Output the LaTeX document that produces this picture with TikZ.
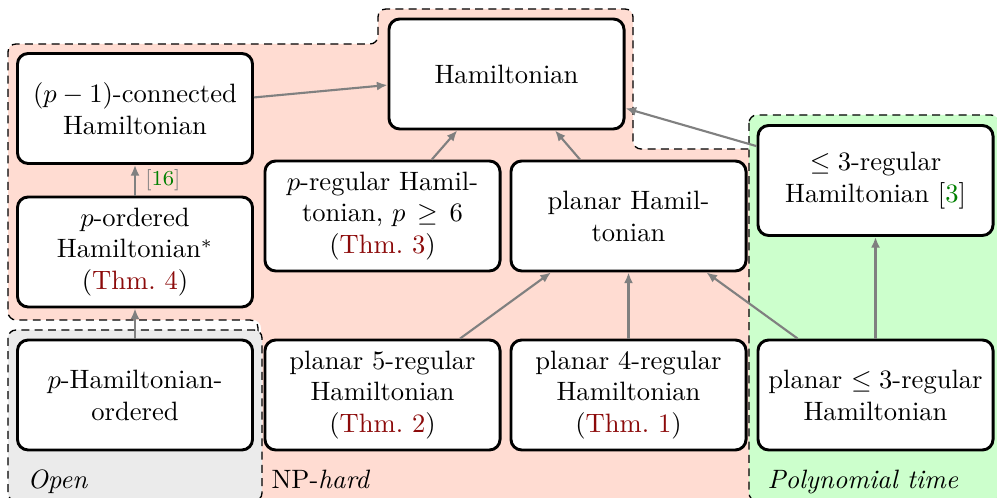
\documentclass[tikz,border=0pt]{standalone}
\usetikzlibrary{arrows.meta}
\definecolor{nphard}{RGB}{255,220,210}
\definecolor{openc}{RGB}{235,235,235}
\definecolor{polyc}{RGB}{204,255,204}
\definecolor{thmred}{RGB}{140,10,10}
\definecolor{citegreen}{RGB}{0,128,0}
\begin{document}
\begin{tikzpicture}[x=0.3765pt,y=-0.3765pt,
  box/.style={draw, rounded corners=4pt, line width=1.1pt, fill=white, align=center,
    minimum width=88.5pt, minimum height=41.4pt, inner sep=2pt},
  arr/.style={draw=gray, line width=0.8pt, -{Latex[length=4pt,width=3.4pt]}},
  region/.style={dash pattern=on 3pt off 2pt, line width=0.5pt, rounded corners=3pt},
  lbl/.style={anchor=base west, inner sep=0pt}]

\useasboundingbox (0,0) rectangle (997,498);

% NP-hard region
\fill[nphard, rounded corners=3pt] (8,44) -- (378,44) -- (378,9) -- (633,9) -- (633,149)
  -- (760,149) -- (760,510) -- (261,510) -- (261,320) -- (8,320) -- cycle;
\draw[region] (258,332) -- (258,320) -- (8,320) -- (8,44) -- (378,44) -- (378,9)
  -- (633,9) -- (633,149) -- (750,149);

% Open region
\draw[region, fill=openc] (8,330) rectangle (262,501);
% Polynomial region
\draw[region, fill=polyc] (749,115) rectangle (999,501);

\node[lbl] (openlbl) at (27,488) {\textit{Open}};
\node[lbl] (nplbl) at (271,488) {NP-\textit{hard}};
\node[lbl] (polylbl) at (767,488) {\textit{Polynomial time}};

% boxes
\node[box] (ham) at (506.5,74) {Hamiltonian};
\node[box] (conn) at (135,108.5) {$(p-1)$-connected\\Hamiltonian};
\node[box] (pord) at (135,252) {$p$-ordered\\Hamiltonian$^*$\\(\textcolor{thmred}{Thm.~4})};
\node[box] (preg) at (382.5,216) {$p$-regular Hamil-\\tonian, $p\mskip3mu\geq\mskip3mu 6$\\(\textcolor{thmred}{Thm.~3})};
\node[box] (planar) at (628.5,216) {planar Hamil-\\tonian};
\node[box] (le3) at (875.5,180.5) {$\leq 3$-regular\\Hamiltonian [\textcolor{citegreen}{3}]};
\node[box] (pham) at (135,395) {$p$-Hamiltonian-\\ordered};
\node[box] (p5) at (382.5,395) {planar 5-regular\\Hamiltonian\\(\textcolor{thmred}{Thm.~2})};
\node[box] (p4) at (628.5,395) {planar 4-regular\\Hamiltonian\\(\textcolor{thmred}{Thm.~1})};
\node[box] (pl3) at (875.5,395) {planar $\leq 3$-regular\\Hamiltonian};

% arrows
\draw[arr] (conn) -- (ham);
\draw[arr] (pord) -- node[right, font=\footnotesize, text=gray, inner sep=3.5pt] {[\textcolor{citegreen}{16}]} (conn);
\draw[arr] (pham) -- (pord);
\draw[arr] (preg) -- (ham);
\draw[arr] (planar) -- (ham);
\draw[arr] (le3) -- (ham);
\draw[arr] (p5) -- (planar);
\draw[arr] (p4) -- (planar);
\draw[arr] (pl3) -- (planar);
\draw[arr] (pl3) -- (le3);
\end{tikzpicture}
\end{document}
